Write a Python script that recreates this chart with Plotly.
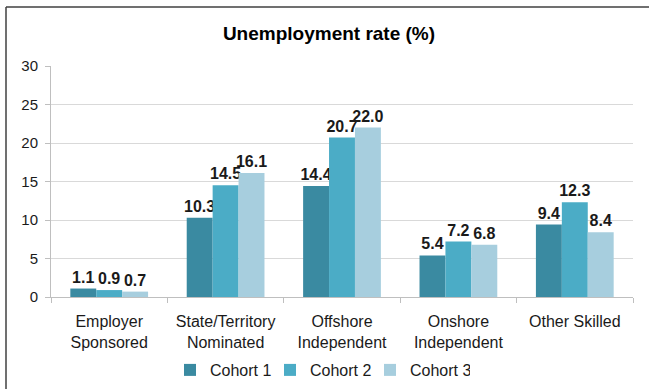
import plotly.graph_objects as go

categories = ["Employer<br>Sponsored", "State/Territory<br>Nominated", "Offshore<br>Independent",
              "Onshore<br>Independent", "Other Skilled"]
cohort_names = ["Cohort 1", "Cohort 2", "Cohort 3"]
cohort_1 = [1.1, 10.3, 14.4, 5.4, 9.4]
cohort_2 = [0.9, 14.5, 20.7, 7.2, 12.3]
cohort_3 = [0.7, 16.1, 22.0, 6.8, 8.4]
y_ticks = [0, 5, 10, 15, 20, 25, 30]

colors = ["#3A8AA1", "#4BACC6", "#A7CEDE"]
font_family = "Liberation Sans, Arial, sans-serif"
text_color = "#1A1A1A"

fig = go.Figure()
for name, values, color in zip(cohort_names, [cohort_1, cohort_2, cohort_3], colors):
    fig.add_trace(go.Bar(
        name=name,
        x=categories,
        y=values,
        marker=dict(color=color, line=dict(width=0)),
        texttemplate="%{y:.1f}",
        textposition="outside",
        constraintext="none",
        cliponaxis=False,
        textfont=dict(family=font_family, size=16, color=text_color, weight="bold"),
    ))

fig.update_layout(
    width=649,
    height=389,
    margin=dict(l=51, r=16, t=66, b=92, autoexpand=False),
    paper_bgcolor="white",
    plot_bgcolor="white",
    barmode="group",
    bargap=0.332,
    bargroupgap=0,
    font=dict(family=font_family, size=16, color=text_color),
    title=dict(
        text="<b>Unemployment rate (%)</b>",
        x=329 / 649, xanchor="center", xref="container",
        y=1 - 33 / 389, yanchor="middle", yref="container",
        font=dict(family=font_family, size=19, color="#000000"),
    ),
    legend=dict(
        orientation="h",
        x=320 / 649, xanchor="center", xref="container",
        y=1 - 370 / 389, yanchor="middle", yref="container",
        font=dict(family=font_family, size=16, color=text_color),
        itemwidth=30,
        entrywidth=55,
        entrywidthmode="pixels",
        traceorder="normal",
    ),
    xaxis=dict(
        automargin=False,
        showline=True, linecolor="#BFBFBF", linewidth=1,
        ticks="outside", tickson="boundaries", ticklen=5, tickcolor="#BFBFBF",
        showgrid=False,
        ticklabelstandoff=10,
        tickfont=dict(family=font_family, size=16, color=text_color),
    ),
    yaxis=dict(
        automargin=False,
        range=[0, 30],
        tickvals=y_ticks,
        showline=True, linecolor="#BFBFBF", linewidth=1,
        ticks="outside", ticklen=5, tickcolor="#BFBFBF",
        showgrid=True, gridcolor="#D9D9D9", gridwidth=1,
        zeroline=False,
        ticklabelstandoff=4,
        tickfont=dict(family=font_family, size=15, color=text_color),
    ),
    shapes=[
        dict(type="line", xref="paper", yref="paper",
             x0=-45 / 582, x1=1.1, y0=1 + 59 / 231, y1=1 + 59 / 231,
             line=dict(color="#404040", width=1.5)),
        dict(type="line", xref="paper", yref="paper",
             x0=-45 / 582, x1=-45 / 582, y0=1 + 59 / 231, y1=-0.5,
             line=dict(color="#404040", width=1.5)),
    ],
)

fig.write_html("out.html")
